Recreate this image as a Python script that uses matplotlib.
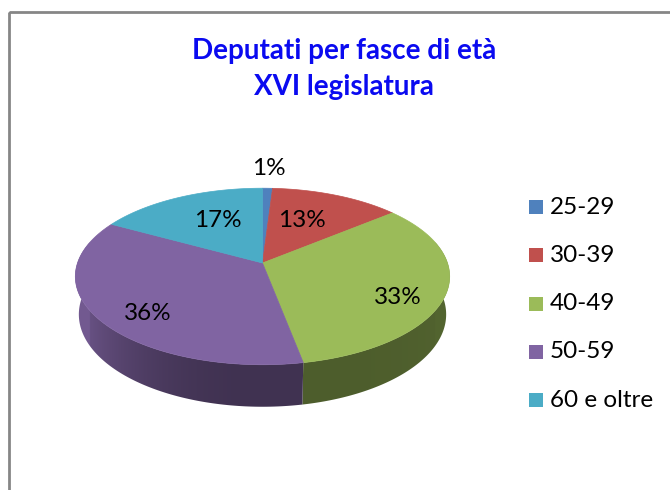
import matplotlib
matplotlib.use('Agg')
import matplotlib.pyplot as plt
from matplotlib.patches import Polygon, Rectangle
import numpy as np

# data
categories = ['25-29', '30-39', '40-49', '50-59', '60 e oltre']
shares = [1, 13, 33, 36, 17]
labels = ['1%', '13%', '33%', '36%', '17%']
colors = ['#4F81BD', '#C0504D', '#9BBB59', '#8064A2', '#4BACC6']
title = 'Deputati per fasce di età\nXVI legislatura'

# label placement (radius along slice bisector, vertical nudge in px)
label_r = [1.25, 0.5, 0.75, 0.72, 0.5]
label_dy = [-4, -7, 12, 11, -8]

plt.rcParams['font.family'] = ['Lato', 'DejaVu Sans']

# 3d view of the pie
S = 185.0            # px per unit radius
CX, CY = 262.5, 263  # apex of the pie on screen
SE, CE = 0.466, 0.885
D = 5.8
H = 0.234


def project(x, y, z):
    depth = D + y * CE - z * SE
    f = D / depth
    return CX + S * x * f, CY - S * (y * SE + z * CE) * f


def side_light(t):
    # brighter on the left, dark towards the front/right
    s = np.sin(t)
    return 0.5 + 0.42 * np.clip(-s, 0, None) ** 2.2 + 0.04 * np.clip(s, 0, None) ** 4


fig = plt.figure(figsize=(6.7, 4.9), dpi=100)
ax = fig.add_axes([0, 0, 1, 1])

# chart border
ax.add_patch(Rectangle((8.5, 12.5), 700, 500, fill=False, edgecolor='#868686', lw=2))

total = float(sum(shares))
bounds = np.concatenate([[0], np.cumsum(shares)]) / total * 2 * np.pi

# map screen x -> angle on the front rim, for the side gradient
tf = np.linspace(np.pi / 2 - 0.25, 3 * np.pi / 2 + 0.25, 400)
xf = np.array([project(np.sin(t), np.cos(t), 0)[0] for t in tf])
gx = np.linspace(60, 465, 500)
gt = np.interp(gx, xf[::-1], tf[::-1])
gk = side_light(gt)

# side walls, front part only
lo, hi = np.pi / 2 - 0.25, 3 * np.pi / 2 + 0.25
for i, col in enumerate(colors):
    a0, a1 = max(bounds[i], lo), min(bounds[i + 1], hi)
    if a1 <= a0:
        continue
    th = np.linspace(a0, a1, 120)
    top = [project(np.sin(t), np.cos(t), 0) for t in th]
    bot = [project(np.sin(t), np.cos(t), -H) for t in th[::-1]]
    poly = Polygon(top + bot, closed=True, facecolor='none', edgecolor='none')
    ax.add_patch(poly)
    rgb = np.array(matplotlib.colors.to_rgb(col))
    img = np.clip(gk[None, :, None] * rgb[None, None, :], 0, 1)
    img = np.repeat(img, 2, axis=0)
    im = ax.imshow(img, extent=(60, 465, 430, 170), aspect='auto',
                   interpolation='bilinear', zorder=1)
    im.set_clip_path(poly)

# top face
for i, col in enumerate(colors):
    a0, a1 = bounds[i], bounds[i + 1]
    th = np.linspace(a0, a1, 80)
    pts = [project(0, 0, 0)] + [project(np.sin(t), np.cos(t), 0) for t in th]
    ax.add_patch(Polygon(pts, closed=True, facecolor=col, edgecolor=col, lw=0.5, zorder=2))

# percentage labels
for i, lab in enumerate(labels):
    mid = 0.5 * (bounds[i] + bounds[i + 1])
    r = label_r[i]
    x, y = project(r * np.sin(mid), r * np.cos(mid), 0)
    ax.text(x, y + label_dy[i], lab, ha='center', va='center', fontsize=17.5,
            color='black', zorder=3)

# title
ax.text(344, 69, title, ha='center', va='center', fontsize=20, fontweight='bold',
        color='#0A0AF0', linespacing=1.45)

# legend
for i, (cat, col) in enumerate(zip(categories, colors)):
    yy = 207 + i * 48.3
    ax.add_patch(Rectangle((528.5, yy - 7), 14, 14, facecolor=col, edgecolor='none'))
    ax.text(550, yy, cat, ha='left', va='center', fontsize=17.5, color='black')

ax.set_xlim(0, 670)
ax.set_ylim(490, 0)
ax.axis('off')

fig.savefig('out.png', dpi=100)
